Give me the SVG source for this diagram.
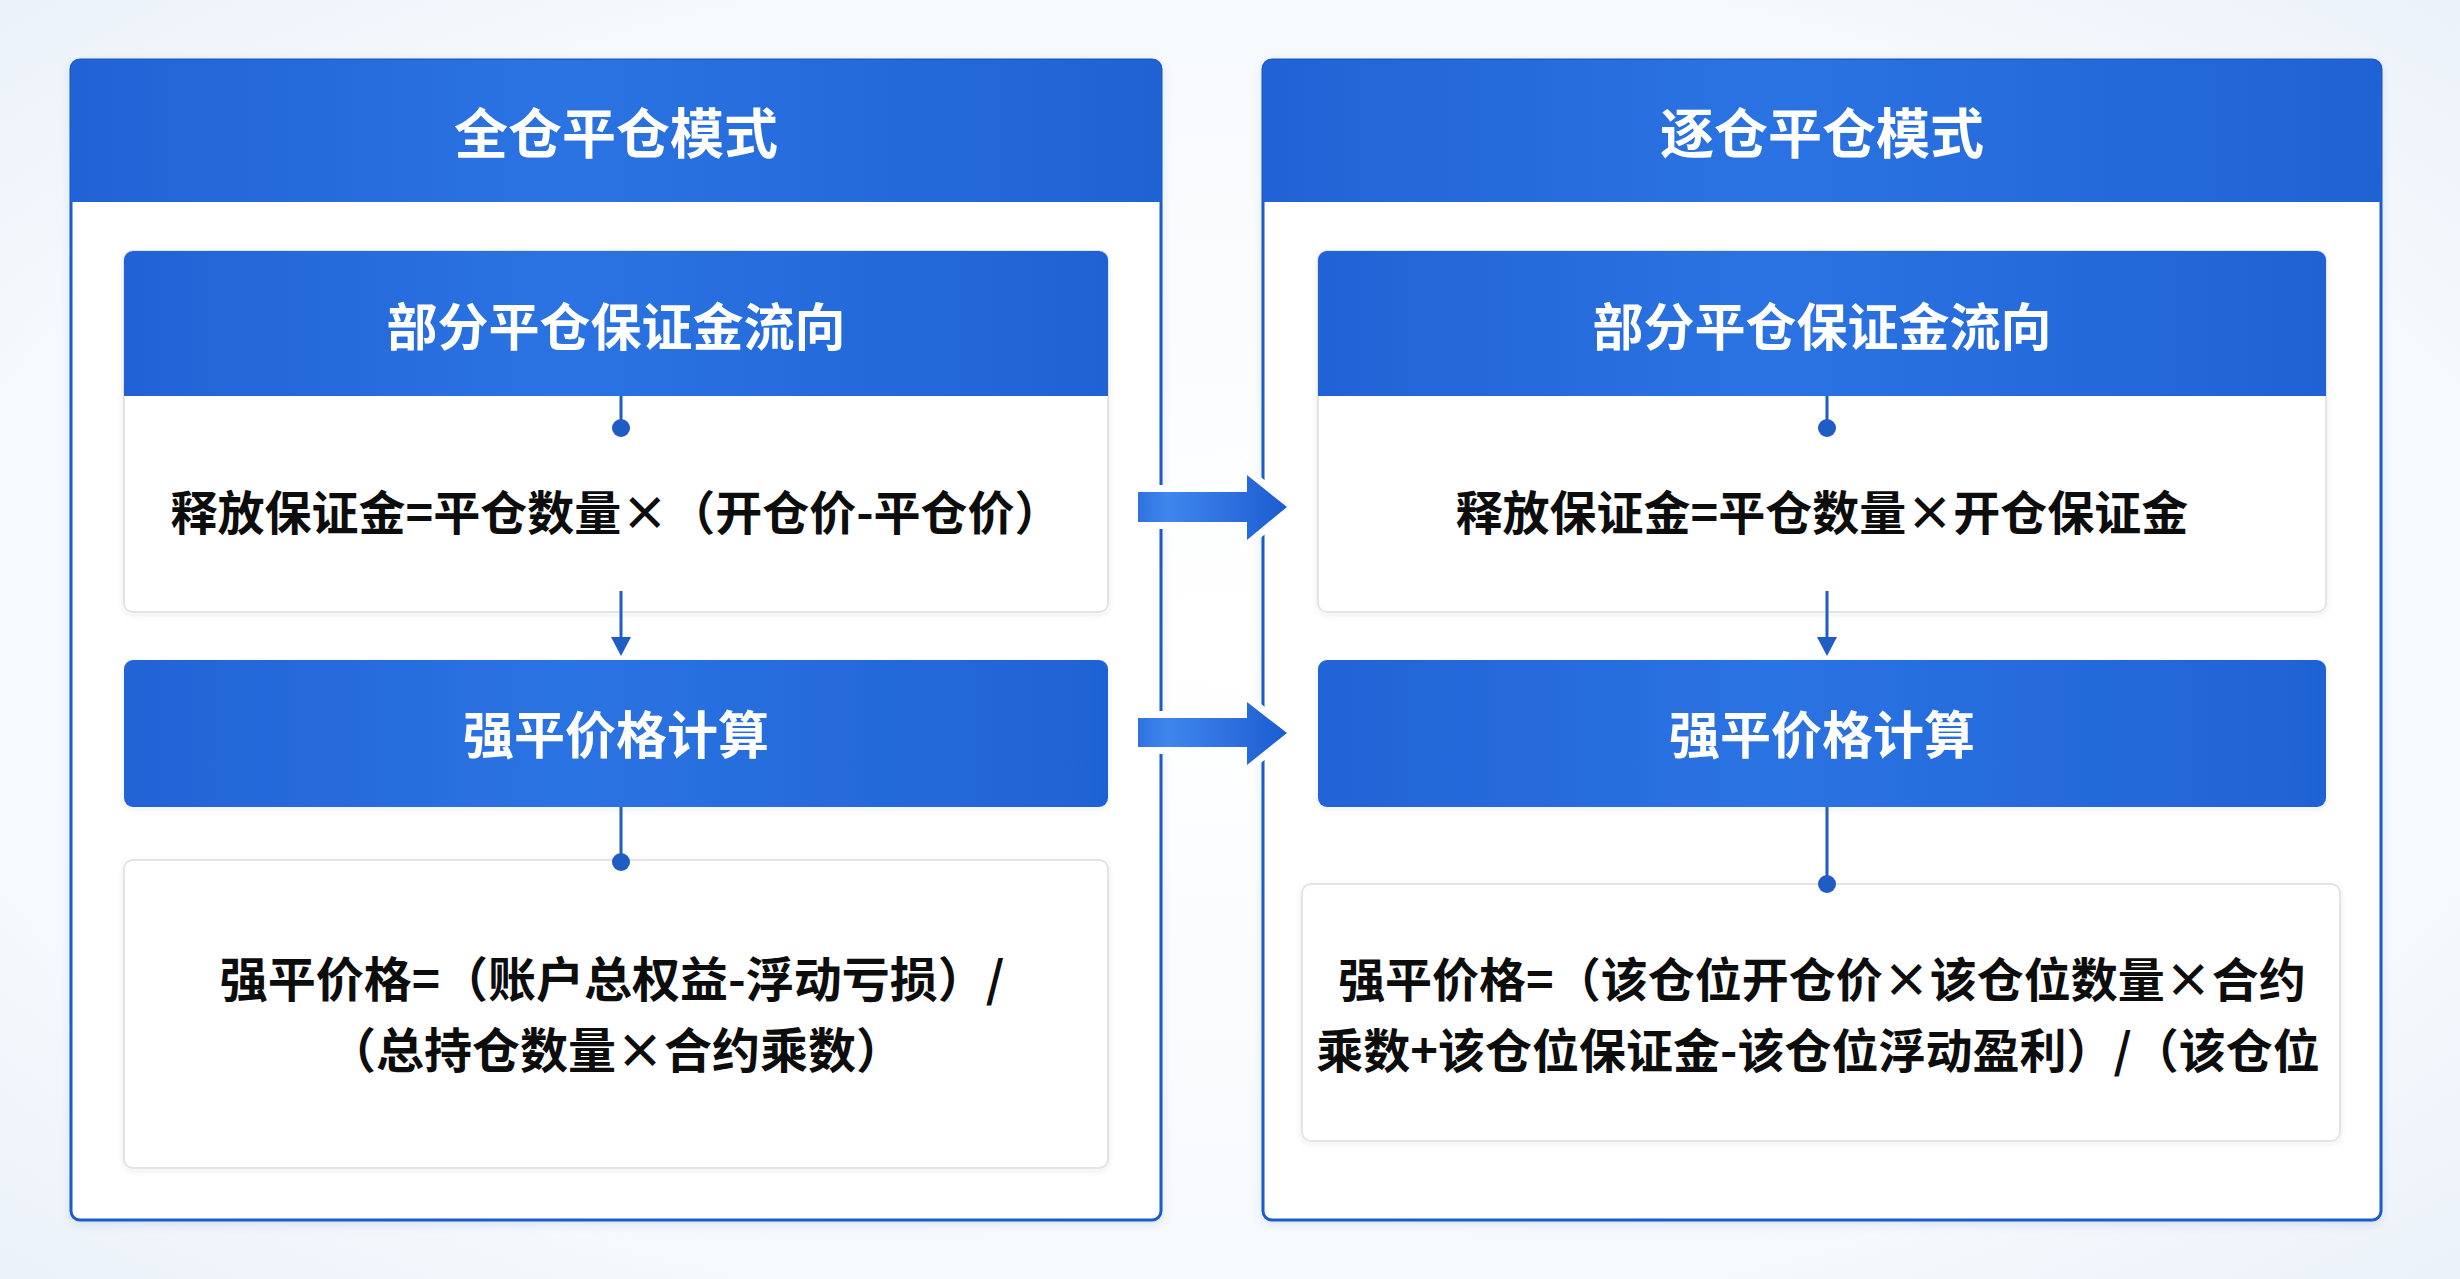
<svg xmlns="http://www.w3.org/2000/svg" width="2460" height="1279" viewBox="0 0 2460 1279">
<defs>
<radialGradient id="bg" cx="50%" cy="50%" r="75%">
<stop offset="0" stop-color="#ffffff"/>
<stop offset="0.7" stop-color="#f6f9fd"/>
<stop offset="1" stop-color="#e9f0f9"/>
</radialGradient>
<linearGradient id="blue" x1="0" y1="0" x2="1" y2="0">
<stop offset="0" stop-color="#2163d6"/>
<stop offset="0.45" stop-color="#2b73e2"/>
<stop offset="1" stop-color="#1f62d4"/>
</linearGradient>
<linearGradient id="arr" x1="0" y1="0" x2="1" y2="0">
<stop offset="0" stop-color="#2f72e0"/>
<stop offset="0.2" stop-color="#3f86ee"/>
<stop offset="1" stop-color="#1c5cd0"/>
</linearGradient>
<filter id="sh" x="-5%" y="-5%" width="110%" height="110%">
<feDropShadow dx="0" dy="3" stdDeviation="5" flood-color="#1f4f9a" flood-opacity="0.12"/>
</filter>
<filter id="sh2" x="-5%" y="-5%" width="110%" height="110%">
<feDropShadow dx="0" dy="2" stdDeviation="3" flood-color="#334" flood-opacity="0.08"/>
</filter>
</defs>
<style>
.panel{fill:#ffffff;stroke:#1d5bc9;stroke-width:3}
.hdr{fill:url(#blue)}
.body{fill:#ffffff;stroke:#e1e5ea;stroke-width:2}
.t-title{font-family:"Noto Sans CJK SC","Noto Sans",sans-serif;font-weight:700;font-size:54px;fill:#ffffff;text-anchor:middle;dominant-baseline:central}
.t-sub{font-family:"Noto Sans CJK SC","Noto Sans",sans-serif;font-weight:700;font-size:51px;fill:#ffffff;text-anchor:middle;dominant-baseline:central}
.t-f{font-family:"Noto Sans CJK SC","Noto Sans",sans-serif;font-weight:700;font-size:47px;fill:#0d0d0d;text-anchor:middle;dominant-baseline:central}
.ln{stroke:#1f5cc4;stroke-width:3;fill:none}
.dot{fill:#1f5cc4}
.ah{fill:#1f5cc4}
.big{fill:url(#arr);stroke:#ffffff;stroke-width:14;paint-order:stroke;stroke-linejoin:miter}
</style>
<rect x="0" y="0" width="2460" height="1279" fill="url(#bg)"/>

<g id="panel-left">
<rect class="panel" x="71" y="60" width="1090" height="1160" rx="9" filter="url(#sh)"/>
<path class="hdr" d="M71,69 a9,9 0 0 1 9,-9 H1152 a9,9 0 0 1 9,9 V202 H71 Z"/>
<text class="t-title" x="616" y="130">全仓平仓模式</text>
</g>

<g id="panel-right">
<rect class="panel" x="1263" y="60" width="1118" height="1160" rx="9" filter="url(#sh)"/>
<path class="hdr" d="M1263,69 a9,9 0 0 1 9,-9 H2372 a9,9 0 0 1 9,9 V202 H1263 Z"/>
<text class="t-title" x="1822" y="130">逐仓平仓模式</text>
</g>

<g id="left-margin-flow">
<rect class="body" x="124" y="251" width="984" height="361" rx="9" filter="url(#sh2)"/>
<path class="hdr" d="M124,260 a9,9 0 0 1 9,-9 H1099 a9,9 0 0 1 9,9 V396 H124 Z"/>
<text class="t-sub" x="616" y="324">部分平仓保证金流向</text>
<text class="t-f" x="616" y="509">释放保证金=平仓数量×（开仓价-平仓价）</text>
</g>

<g id="left-liq-calc">
<rect class="hdr" x="124" y="660" width="984" height="147" rx="9" filter="url(#sh2)"/>
<text class="t-sub" x="616" y="732">强平价格计算</text>
</g>

<g id="left-liq-formula">
<rect class="body" x="124" y="860" width="984" height="308" rx="9" filter="url(#sh2)"/>
<text class="t-f" x="612" y="976" style="font-size:48px">强平价格=（账户总权益-浮动亏损）/</text>
<text class="t-f" x="616" y="1047" style="font-size:48px">（总持仓数量×合约乘数）</text>
</g>

<g id="right-margin-flow">
<rect class="body" x="1318" y="251" width="1008" height="361" rx="9" filter="url(#sh2)"/>
<path class="hdr" d="M1318,260 a9,9 0 0 1 9,-9 H2317 a9,9 0 0 1 9,9 V396 H1318 Z"/>
<text class="t-sub" x="1822" y="324">部分平仓保证金流向</text>
<text class="t-f" x="1822" y="509">释放保证金=平仓数量×开仓保证金</text>
</g>

<g id="right-liq-calc">
<rect class="hdr" x="1318" y="660" width="1008" height="147" rx="9" filter="url(#sh2)"/>
<text class="t-sub" x="1822" y="732">强平价格计算</text>
</g>

<g id="right-liq-formula">
<rect class="body" x="1302" y="884" width="1038" height="257" rx="9" filter="url(#sh2)"/>
<text class="t-f" x="1822" y="976">强平价格=（该仓位开仓价×该仓位数量×合约</text>
<text class="t-f" x="1818" y="1047">乘数+该仓位保证金-该仓位浮动盈利）/（该仓位</text>
</g>

<g id="connectors">
<line class="ln" x1="621" y1="396" x2="621" y2="428"/>
<circle class="dot" cx="621" cy="428" r="9"/>
<line class="ln" x1="621" y1="591" x2="621" y2="640"/>
<polygon class="ah" points="611,637 631,637 621,656"/>
<line class="ln" x1="621" y1="807" x2="621" y2="862"/>
<circle class="dot" cx="621" cy="862" r="9"/>

<line class="ln" x1="1827" y1="396" x2="1827" y2="428"/>
<circle class="dot" cx="1827" cy="428" r="9"/>
<line class="ln" x1="1827" y1="591" x2="1827" y2="640"/>
<polygon class="ah" points="1817,637 1837,637 1827,656"/>
<line class="ln" x1="1827" y1="807" x2="1827" y2="884"/>
<circle class="dot" cx="1827" cy="884" r="9"/>

<polygon class="big" points="1138,492 1247,492 1247,475 1287,507 1247,540 1247,522 1138,522"/>
<polygon class="big" points="1138,718 1247,718 1247,702 1287,733 1247,765 1247,747 1138,747"/>
</g>
</svg>
